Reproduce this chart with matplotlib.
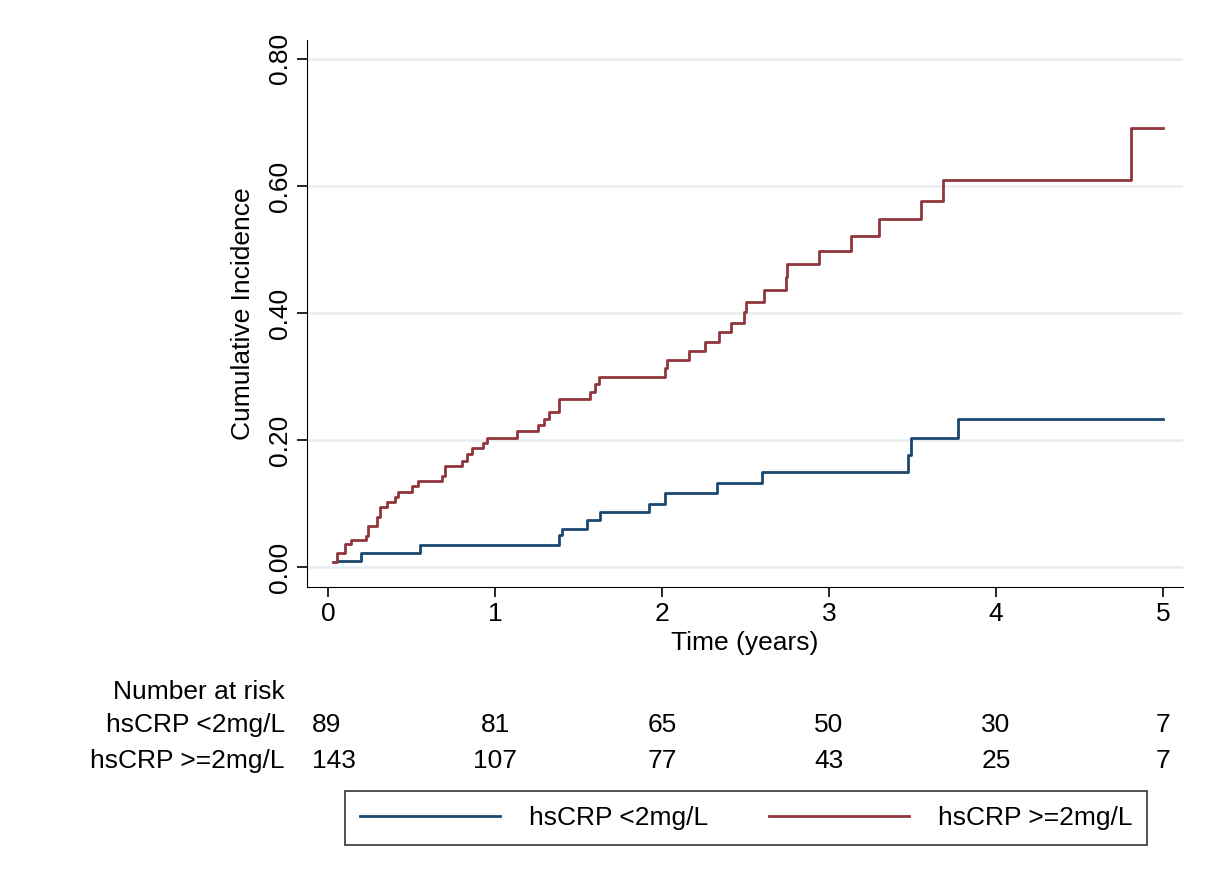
import matplotlib
matplotlib.use("Agg")
import matplotlib.pyplot as plt

plt.rcParams["font.family"] = ["Liberation Sans", "DejaVu Sans"]

# step data (time in years, cumulative incidence)
t_low = [0.06, 0.20, 0.55, 1.38, 1.40, 1.55, 1.63, 1.92, 2.02, 2.33, 2.60, 3.47, 3.49, 3.77, 5.0]
y_low = [0.010, 0.023, 0.035, 0.050, 0.060, 0.075, 0.087, 0.100, 0.117, 0.133, 0.150, 0.176, 0.203, 0.233, 0.233]

t_high = [0.03, 0.055, 0.10, 0.14, 0.23, 0.24, 0.29, 0.31, 0.35, 0.40, 0.42, 0.50, 0.54, 0.68, 0.70,
          0.80, 0.83, 0.86, 0.93, 0.95, 1.13, 1.26, 1.29, 1.32, 1.38, 1.57, 1.60, 1.62, 2.02, 2.03,
          2.16, 2.26, 2.34, 2.41, 2.49, 2.50, 2.61, 2.74, 2.75, 2.94, 3.13, 3.30, 3.55, 3.68, 4.81, 5.0]
y_high = [0.008, 0.022, 0.036, 0.043, 0.049, 0.065, 0.079, 0.095, 0.102, 0.110, 0.118, 0.128, 0.135, 0.143, 0.160,
          0.168, 0.178, 0.187, 0.195, 0.203, 0.214, 0.224, 0.233, 0.244, 0.264, 0.276, 0.288, 0.300, 0.313, 0.326,
          0.340, 0.354, 0.370, 0.385, 0.401, 0.417, 0.437, 0.457, 0.477, 0.497, 0.521, 0.548, 0.577, 0.609, 0.691, 0.691]

groups = ["hsCRP <2mg/L", "hsCRP >=2mg/L"]
risk_times = [0, 1, 2, 3, 4, 5]
risk_low = [89, 81, 65, 50, 30, 7]
risk_high = [143, 107, 77, 43, 25, 7]

BLUE, RED = "#1a476f", "#90353b"
FS = 19

fig = plt.figure(figsize=(12.06, 8.84), dpi=100)
ax = fig.add_axes([0.2546, 0.336, 0.981 - 0.2546, 0.955 - 0.336])
ax.step(t_low, y_low, where="post", color=BLUE, lw=2)
ax.step(t_high, y_high, where="post", color=RED, lw=2)

ax.set_xlim(-0.126, 5.12)
ax.set_ylim(-0.031, 0.83)
ax.set_yticks([0, 0.2, 0.4, 0.6, 0.8])
ax.set_yticklabels(["0.00", "0.20", "0.40", "0.60", "0.80"], rotation=90, va="center")
ax.set_xticks(risk_times)
ax.tick_params(labelsize=FS, length=7, width=1.2)
ax.grid(axis="y", color="#e6eef0", lw=1.8)
ax.set_axisbelow(True)
for s in ["top", "right"]:
    ax.spines[s].set_visible(False)
ax.set_ylabel("Cumulative Incidence", fontsize=FS, labelpad=10)
ax.set_xlabel("Time (years)", fontsize=FS, labelpad=4)

# number at risk table
fig.text(285 / 1206, 1 - 692 / 884, "Number at risk", fontsize=FS, ha="right", va="center")
for row, (name, vals) in enumerate([(groups[0], risk_low), (groups[1], risk_high)]):
    yy = 1 - (725 + row * 36) / 884
    fig.text(285 / 1206, yy, name, fontsize=FS, ha="right", va="center")
    for t, v in zip(risk_times, vals):
        xf = (328 + t * 167) / 1206
        ha = "left" if t == 0 else ("right" if t == 5 else "center")
        if t == 0:
            xf -= 16 / 1206
        if t == 5:
            xf += 7 / 1206
        fig.text(xf, yy, str(v), fontsize=FS, ha=ha, va="center")

# legend
handles = [plt.Line2D([], [], color=BLUE, lw=2), plt.Line2D([], [], color=RED, lw=2)]
leg = fig.legend(handles, groups, loc="center", bbox_to_anchor=(746 / 1206, 1 - 818 / 884),
                 ncol=2, fontsize=FS, frameon=True, fancybox=False, edgecolor="black",
                 handlelength=5.3, columnspacing=2.3, borderpad=0.55, handletextpad=1.1)
leg.get_frame().set_linewidth(1.2)

fig.savefig("out.png", dpi=100, facecolor="white")
